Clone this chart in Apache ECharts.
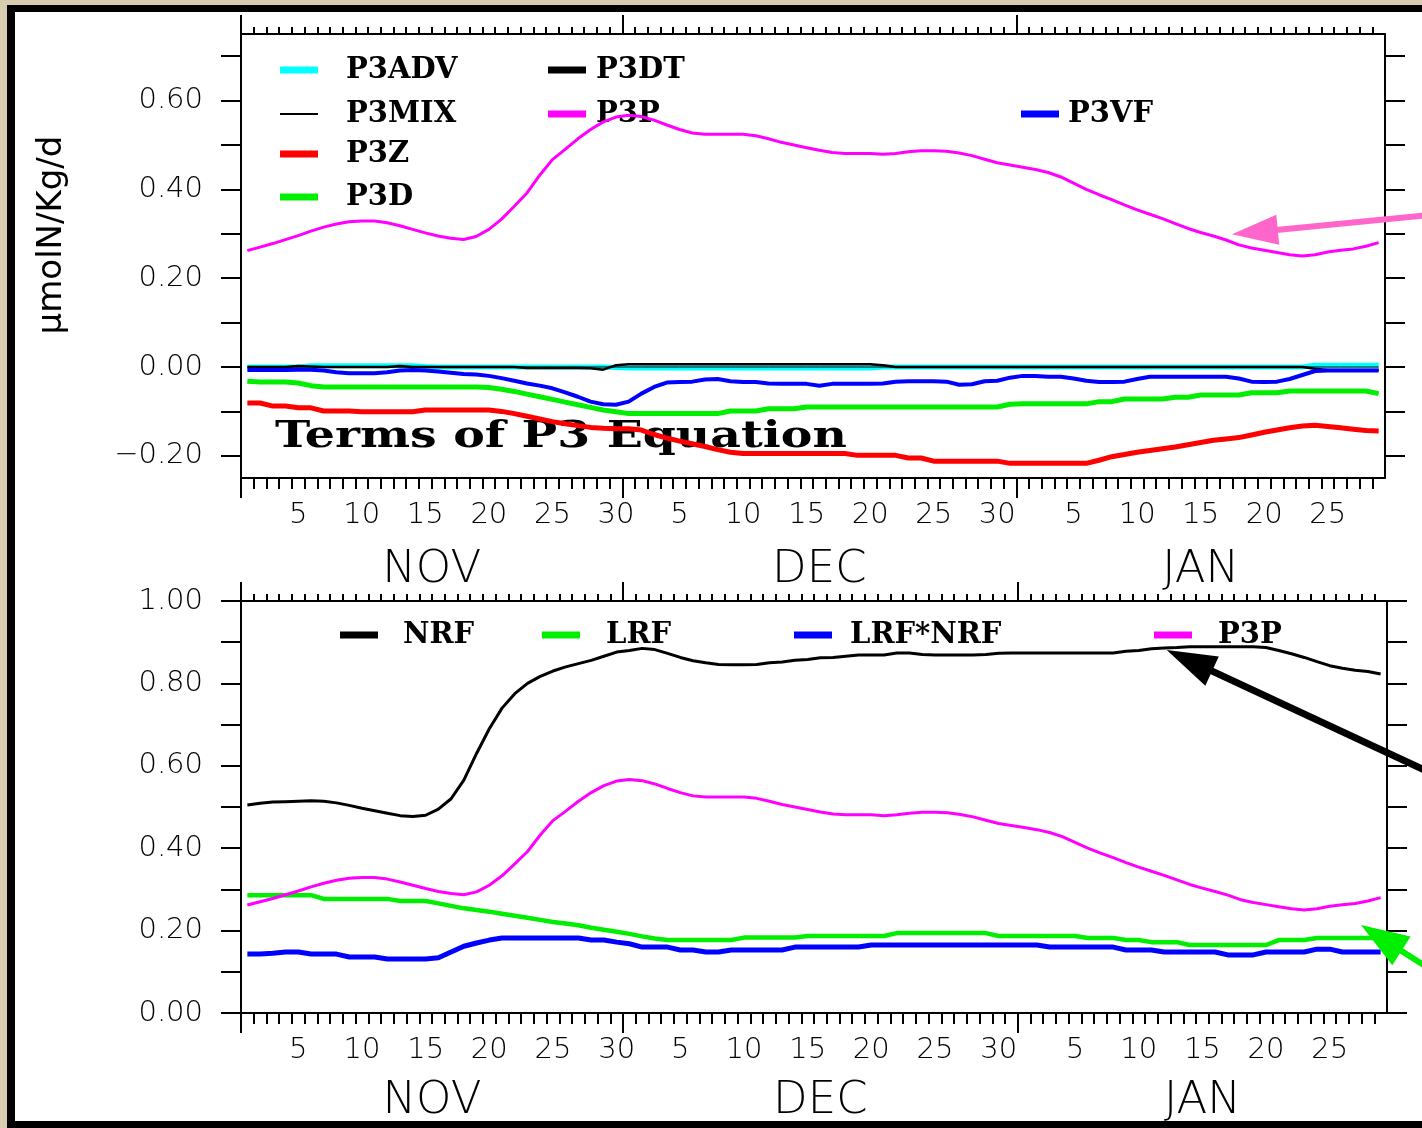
<!DOCTYPE html>
<html><head><meta charset="utf-8">
<script src="https://cdn.jsdelivr.net/npm/echarts@6/dist/echarts.min.js"></script>
<style>
html,body{margin:0;padding:0;background:#d8ccb0;overflow:hidden;width:1422px;height:1128px;}
#frame{position:absolute;left:7px;top:5px;width:1500px;height:1109px;background:#fff;border:8px solid #000;border-top-width:7px;border-right:none;}
#chart{position:absolute;left:0;top:0;width:1422px;height:1128px;}
</style></head><body>
<div id="frame"></div><div id="chart"></div>
<script>
// ---- axis labels / categories ----
const months = ['NOV', 'DEC', 'JAN'];
const monthLengths = [30, 31, 29];          // days shown for each month
const dayLabels = [5, 10, 15, 20, 25, 30];
const topTicks = [-0.2, -0.1, 0, 0.1, 0.2, 0.3, 0.4, 0.5, 0.6, 0.7];
const topLabels = [-0.2, 0, 0.2, 0.4, 0.6];
const botTicks = [0, 0.1, 0.2, 0.3, 0.4, 0.5, 0.6, 0.7, 0.8, 0.9, 1.0];
const botLabels = [0, 0.2, 0.4, 0.6, 0.8, 1.0];

// ---- top panel: terms of P3 equation (daily, Nov 1 .. Jan 29) ----
const P3ADV = [0,0,0,0,0,0.003,0.003,0.003,0.003,0.003,0.003,0.003,0.003,0.003,0.001,0,0,0,0,0,0,0,0,0,0,0,0,0,0,-0.001,
  -0.002,-0.002,-0.002,-0.002,-0.002,-0.002,-0.002,-0.002,-0.002,-0.002,-0.002,-0.002,-0.002,-0.002,-0.002,-0.002,-0.002,-0.002,-0.002,-0.002,0,0,0,0,0,0,0,0,0,0,0,
  0,0,0,0,0,0,0,0,0,0,0,0,0,0,0,0,0,0,0,0,0,0,0,0.004,0.004,0.004,0.004,0.004,0.004];
const P3MIX = [0,0,0,0,0,0,0,0,0,0,0,0,0,0,0,0,0,0,0,0,0,0,0,0,0,0,0,0,0,0,
  0,0,0,0,0,0,0,0,0,0,0,0,0,0,0,0,0,0,0,0,0,0,0,0,0,0,0,0,0,0,0,
  0,0,0,0,0,0,0,0,0,0,0,0,0,0,0,0,0,0,0,0,0,0,0,0,0,0,0,0,0];
const P3Z = [-0.081,-0.081,-0.088,-0.088,-0.092,-0.092,-0.099,-0.099,-0.099,-0.101,-0.101,-0.101,-0.101,-0.101,-0.097,-0.097,-0.097,-0.097,-0.097,-0.097,-0.100,-0.105,-0.111,-0.117,-0.123,-0.128,-0.132,-0.136,-0.138,-0.139,
  -0.139,-0.142,-0.152,-0.160,-0.167,-0.173,-0.179,-0.186,-0.192,-0.195,-0.195,-0.195,-0.195,-0.195,-0.195,-0.195,-0.195,-0.195,-0.199,-0.199,-0.199,-0.199,-0.205,-0.205,-0.212,-0.212,-0.212,-0.212,-0.212,-0.212,-0.217,
  -0.217,-0.217,-0.217,-0.217,-0.217,-0.217,-0.210,-0.202,-0.197,-0.192,-0.188,-0.184,-0.180,-0.175,-0.170,-0.165,-0.162,-0.159,-0.153,-0.147,-0.142,-0.137,-0.133,-0.131,-0.134,-0.137,-0.140,-0.143,-0.144];
const P3D = [-0.032,-0.034,-0.034,-0.034,-0.036,-0.042,-0.045,-0.045,-0.045,-0.045,-0.045,-0.045,-0.045,-0.045,-0.045,-0.045,-0.045,-0.045,-0.045,-0.046,-0.050,-0.055,-0.061,-0.067,-0.073,-0.079,-0.085,-0.091,-0.097,-0.101,
  -0.105,-0.105,-0.105,-0.105,-0.105,-0.105,-0.105,-0.105,-0.099,-0.099,-0.099,-0.094,-0.094,-0.094,-0.090,-0.090,-0.090,-0.090,-0.090,-0.090,-0.090,-0.090,-0.090,-0.090,-0.090,-0.090,-0.090,-0.090,-0.090,-0.090,-0.084,
  -0.083,-0.083,-0.083,-0.083,-0.083,-0.083,-0.078,-0.078,-0.072,-0.072,-0.072,-0.072,-0.068,-0.068,-0.063,-0.063,-0.063,-0.063,-0.058,-0.058,-0.058,-0.054,-0.054,-0.054,-0.054,-0.054,-0.054,-0.054,-0.060];
const P3DT = [0,0,0,0,0.002,0.001,0,0,0,0,0,0,0.002,0,0,0,0,0,0,0,0,0,-0.002,-0.002,-0.002,-0.002,-0.002,-0.003,-0.006,0.004,
  0.006,0.006,0.006,0.006,0.006,0.006,0.006,0.006,0.006,0.006,0.006,0.006,0.006,0.006,0.006,0.006,0.006,0.006,0.006,0.006,0.004,0,0,0,0,0,0,0,0,0,0,
  0,0,0,0,0,0,0,0,0,0,0,0,0,0,0,0,0,0,0,0,0,0,0,-0.004,-0.007,-0.007,-0.007,-0.007,-0.007];
const P3P = [0.262,0.270,0.278,0.287,0.296,0.306,0.315,0.322,0.327,0.329,0.329,0.325,0.318,0.310,0.302,0.295,0.290,0.287,0.294,0.310,0.333,0.362,0.392,0.432,0.467,0.490,0.514,0.535,0.552,0.563,
  0.567,0.564,0.556,0.545,0.535,0.527,0.524,0.524,0.524,0.524,0.521,0.514,0.506,0.500,0.494,0.488,0.483,0.481,0.481,0.481,0.479,0.481,0.485,0.487,0.487,0.486,0.482,0.476,0.468,0.460,0.455,
  0.450,0.445,0.438,0.428,0.414,0.400,0.388,0.377,0.365,0.354,0.344,0.334,0.323,0.312,0.303,0.295,0.286,0.275,0.268,0.263,0.258,0.253,0.250,0.253,0.259,0.263,0.266,0.272,0.280];
const P3VF = [-0.007,-0.007,-0.007,-0.007,-0.006,-0.006,-0.008,-0.012,-0.014,-0.014,-0.014,-0.012,-0.008,-0.007,-0.008,-0.010,-0.013,-0.016,-0.017,-0.020,-0.025,-0.031,-0.037,-0.042,-0.048,-0.057,-0.067,-0.078,-0.084,-0.085,
  -0.078,-0.060,-0.045,-0.035,-0.034,-0.033,-0.028,-0.027,-0.032,-0.034,-0.034,-0.037,-0.038,-0.038,-0.038,-0.042,-0.038,-0.038,-0.038,-0.038,-0.037,-0.033,-0.032,-0.032,-0.032,-0.033,-0.040,-0.039,-0.032,-0.031,-0.024,
  -0.020,-0.020,-0.022,-0.022,-0.026,-0.031,-0.034,-0.034,-0.033,-0.027,-0.022,-0.022,-0.022,-0.022,-0.022,-0.022,-0.022,-0.026,-0.033,-0.034,-0.033,-0.027,-0.018,-0.009,-0.008,-0.008,-0.008,-0.008,-0.008];

// ---- bottom panel: limitation factors ----
const NRF = [0.505,0.509,0.512,0.513,0.514,0.515,0.514,0.510,0.504,0.497,0.491,0.485,0.479,0.477,0.480,0.495,0.520,0.565,0.630,0.690,0.740,0.775,0.800,0.817,0.830,0.840,0.848,0.856,0.866,0.876,
  0.880,0.885,0.882,0.873,0.863,0.855,0.850,0.846,0.845,0.845,0.846,0.850,0.852,0.856,0.858,0.862,0.863,0.866,0.869,0.869,0.869,0.874,0.874,0.870,0.869,0.869,0.869,0.869,0.870,0.873,0.874,
  0.874,0.874,0.874,0.874,0.874,0.874,0.874,0.874,0.878,0.880,0.884,0.886,0.887,0.889,0.889,0.889,0.889,0.889,0.889,0.887,0.880,0.872,0.863,0.853,0.843,0.837,0.832,0.829,0.823];
const LRF = [0.286,0.286,0.286,0.286,0.286,0.286,0.277,0.277,0.277,0.277,0.277,0.277,0.272,0.272,0.272,0.266,0.260,0.254,0.250,0.246,0.241,0.236,0.231,0.226,0.221,0.217,0.213,0.207,0.202,0.197,
  0.192,0.186,0.181,0.177,0.177,0.177,0.177,0.177,0.177,0.183,0.183,0.183,0.183,0.183,0.187,0.187,0.187,0.187,0.187,0.187,0.187,0.194,0.194,0.194,0.194,0.194,0.194,0.194,0.194,0.187,0.187,
  0.187,0.187,0.187,0.187,0.187,0.182,0.182,0.182,0.177,0.177,0.172,0.172,0.172,0.165,0.165,0.165,0.165,0.165,0.165,0.165,0.177,0.177,0.177,0.182,0.182,0.182,0.182,0.182,0.182];
const LRFxNRF = [0.143,0.143,0.145,0.148,0.148,0.143,0.143,0.143,0.136,0.136,0.136,0.131,0.131,0.131,0.131,0.134,0.148,0.162,0.170,0.177,0.182,0.182,0.182,0.182,0.182,0.182,0.182,0.177,0.177,0.172,
  0.168,0.160,0.160,0.160,0.153,0.153,0.148,0.148,0.153,0.153,0.153,0.153,0.153,0.160,0.160,0.160,0.160,0.160,0.160,0.165,0.165,0.165,0.165,0.165,0.165,0.165,0.165,0.165,0.165,0.165,0.165,
  0.165,0.165,0.160,0.160,0.160,0.160,0.160,0.160,0.153,0.153,0.153,0.148,0.148,0.148,0.148,0.148,0.141,0.141,0.141,0.148,0.148,0.148,0.148,0.155,0.155,0.148,0.148,0.148,0.148];

// annotation arrows: tip in data coords of a panel, tail offset in px
const arrows = [
  {x: 0, y: 0, tipX: 77.96, tipY: 0.299, dx: 195, dy: -19, color: '#ff66cc', w: 6, L: 46, H: 15},
  {x: 4, y: 2, tipX: 72.7, tipY: 0.881, dx: 260, dy: 121, color: '#000000', w: 7, L: 50, H: 16},
  {x: 4, y: 2, tipX: 87.96, tipY: 0.2136, dx: 64, dy: 41, color: '#00ee00', w: 6, L: 48, H: 17}
];

// ---- derived axis positions ----
const monthStarts = [];
const monthMids = [];
const dayLabelPos = [];
const dayLabelMap = {};
const monthLabelMap = {};
let s = 0;
months.forEach((m, k) => {
  monthStarts.push(s);
  const mid = s + monthLengths[k] / 2;
  monthMids.push(mid);
  monthLabelMap[mid.toFixed(2)] = m;
  dayLabels.forEach(d => {
    if (d <= monthLengths[k]) {
      const p = s + d - 0.5;
      dayLabelPos.push(p);
      dayLabelMap[p.toFixed(2)] = String(d);
    }
  });
  s += monthLengths[k];
});
const totalDays = s;
const dayTicks = [];
for (let i = 1; i < totalDays; i++) dayTicks.push(i);

const LBL_FONT = 'DejaVu Sans';
const LBL_WEIGHT = 200;
const fmtY = v => (v < -1e-9 ? '\u2212' : '') + Math.abs(v).toFixed(2);

function xAxesFor(g, labelMargin, monthMargin) {
  const c = {type: 'value', gridIndex: g, min: 0, max: totalDays, splitLine: {show: false}, axisPointer: {show: false}};
  const ln = {color: '#000', width: 2};
  return [
    Object.assign({}, c, {position: 'bottom',
      axisLine: {show: true, onZero: false, lineStyle: ln},
      axisTick: {show: true, inside: false, length: 11, customValues: dayTicks, lineStyle: ln},
      axisLabel: {show: true, customValues: dayLabelPos, formatter: v => dayLabelMap[v.toFixed(2)] || '',
        margin: labelMargin, color: '#000', fontFamily: LBL_FONT, fontWeight: LBL_WEIGHT, fontSize: 29}}),
    Object.assign({}, c, {position: 'bottom',
      axisLine: {show: false, onZero: false},
      axisTick: {show: true, inside: false, length: 20, customValues: monthStarts, lineStyle: ln},
      axisLabel: {show: true, customValues: monthMids, formatter: v => monthLabelMap[v.toFixed(2)] || '',
        margin: monthMargin, color: '#000', fontFamily: LBL_FONT, fontWeight: LBL_WEIGHT, fontSize: 45}}),
    Object.assign({}, c, {position: 'top',
      axisLine: {show: true, onZero: false, lineStyle: ln},
      axisTick: {show: true, inside: false, length: 7, customValues: dayTicks, lineStyle: ln},
      axisLabel: {show: false}}),
    Object.assign({}, c, {position: 'top',
      axisLine: {show: false, onZero: false},
      axisTick: {show: true, inside: false, length: 19, customValues: monthStarts, lineStyle: ln},
      axisLabel: {show: false}})
  ];
}
function yAxesFor(g, min, max, ticks, labels, name) {
  const ln = {color: '#000', width: 2};
  const c = {type: 'value', gridIndex: g, min: min, max: max, splitLine: {show: false}, axisPointer: {show: false}};
  const left = Object.assign({}, c, {position: 'left',
    axisLine: {show: true, onZero: false, lineStyle: ln},
    axisTick: {show: true, inside: false, length: 20, customValues: ticks, lineStyle: ln},
    axisLabel: {show: true, customValues: labels, formatter: fmtY, margin: 38, color: '#000', fontFamily: LBL_FONT, fontWeight: LBL_WEIGHT, fontSize: 29}});
  if (name) {
    Object.assign(left, {name: name, nameLocation: 'middle', nameRotate: 90, nameGap: 172,
      nameTextStyle: {fontFamily: LBL_FONT, fontSize: 34, color: '#000', padding: [0, 0, 0, 42]}});
  }
  const right = Object.assign({}, c, {position: 'right',
    axisLine: {show: true, onZero: false, lineStyle: ln},
    axisTick: {show: true, inside: false, length: 20, customValues: ticks, lineStyle: ln},
    axisLabel: {show: false}});
  return [left, right];
}

const toXY = arr => arr.map((v, i) => [i + 0.5, v]);
function line(name, data, color, width, xi, yi) {
  return {type: 'line', name: name, data: toXY(data), xAxisIndex: xi, yAxisIndex: yi,
    symbol: 'none', showSymbol: false, silent: true, animation: false,
    lineStyle: {color: color, width: width}, itemStyle: {color: color}};
}

const series = [
  line('P3ADV', P3ADV, '#00ffff', 5, 0, 0),
  line('P3MIX', P3MIX, '#000000', 1, 0, 0),
  line('P3Z', P3Z, '#ff0000', 5, 0, 0),
  line('P3D', P3D, '#00ee00', 5, 0, 0),
  line('P3P', P3P, '#ff00ff', 3, 0, 0),
  line('P3DT', P3DT, '#000000', 2.5, 0, 0),
  line('P3VF', P3VF, '#0000ff', 4, 0, 0),
  line('NRF', NRF, '#000000', 3, 4, 2),
  line('LRF', LRF, '#00ee00', 4.5, 4, 2),
  line('LRF*NRF', LRFxNRF, '#0000ff', 5, 4, 2),
  line('P3P', P3P, '#ff00ff', 3, 4, 2)
];

const legendSpec = [
  {name: 'P3ADV', left: 280, top: 55, gap: 23},
  {name: 'P3MIX', left: 280, top: 99, gap: 23, h: 2},
  {name: 'P3Z', left: 280, top: 139, gap: 23},
  {name: 'P3D', left: 280, top: 182, gap: 23},
  {name: 'P3DT', left: 548, top: 55, gap: 5},
  {name: 'P3P', left: 548, top: 99, gap: 5},
  {name: 'P3VF', left: 1021, top: 99, gap: 4},
  {name: 'NRF', left: 340, top: 620, gap: 20},
  {name: 'LRF', left: 542, top: 620, gap: 21},
  {name: 'LRF*NRF', left: 794, top: 620, gap: 13},
  {name: 'P3P', left: 1154, top: 620, gap: 21}
];
const legends = legendSpec.map(l => ({
  data: [l.name], left: l.left, top: l.top, padding: 0, orient: 'horizontal', z: 1,
  itemWidth: 38, itemHeight: l.h || 7, icon: 'rect', selectedMode: false,
  itemStyle: {borderWidth: 0}, lineStyle: {width: 0},
  textStyle: {fontFamily: 'DejaVu Serif', fontWeight: 'bold', fontSize: 29, color: '#000', lineHeight: 30, padding: [0, 0, 0, l.gap]}
}));

const chart = echarts.init(document.getElementById('chart'), null, {renderer: 'canvas'});
const option = {
  animation: false,
  backgroundColor: 'transparent',
  grid: [
    {left: 241, top: 34, width: 1144, height: 444},
    {left: 241, top: 601, width: 1146, height: 412}
  ],
  xAxis: xAxesFor(0, 23, 70).concat(xAxesFor(1, 23, 66)),
  yAxis: yAxesFor(0, -0.25, 0.75, topTicks, topLabels, '\u03bcmolN/Kg/d')
    .concat(yAxesFor(1, 0, 1, botTicks, botLabels, null)),
  legend: legends,
  series: series
};
chart.setOption(option);

// title text (beneath the curves, as in the original) and arrows (annotation)
const graphics = [{
  type: 'text', x: 275, y: 437, scaleX: 1.28, z: 1,
  style: {text: 'Terms of P3 Equation', font: 'bold 37px "DejaVu Serif"', fill: '#000',
    verticalAlign: 'middle', textVerticalAlign: 'middle', align: 'left', textAlign: 'left'}
}];
arrows.forEach(a => {
  const tip = chart.convertToPixel({xAxisIndex: a.x, yAxisIndex: a.y}, [a.tipX, a.tipY]);
  const tail = [tip[0] + a.dx, tip[1] + a.dy];
  const len = Math.hypot(a.dx, a.dy);
  const ux = -a.dx / len, uy = -a.dy / len;       // direction tail->tip
  const bx = tip[0] - ux * a.L, by = tip[1] - uy * a.L;
  const nx = -uy, ny = ux;
  graphics.push({type: 'line', z: 60, shape: {x1: tail[0], y1: tail[1], x2: bx + ux * 4, y2: by + uy * 4},
    style: {stroke: a.color, lineWidth: a.w}});
  graphics.push({type: 'polygon', z: 61, shape: {points: [tip, [bx + nx * a.H, by + ny * a.H], [bx - nx * a.H, by - ny * a.H]]},
    style: {fill: a.color}});
});
chart.setOption({graphic: graphics});
</script></body></html>
